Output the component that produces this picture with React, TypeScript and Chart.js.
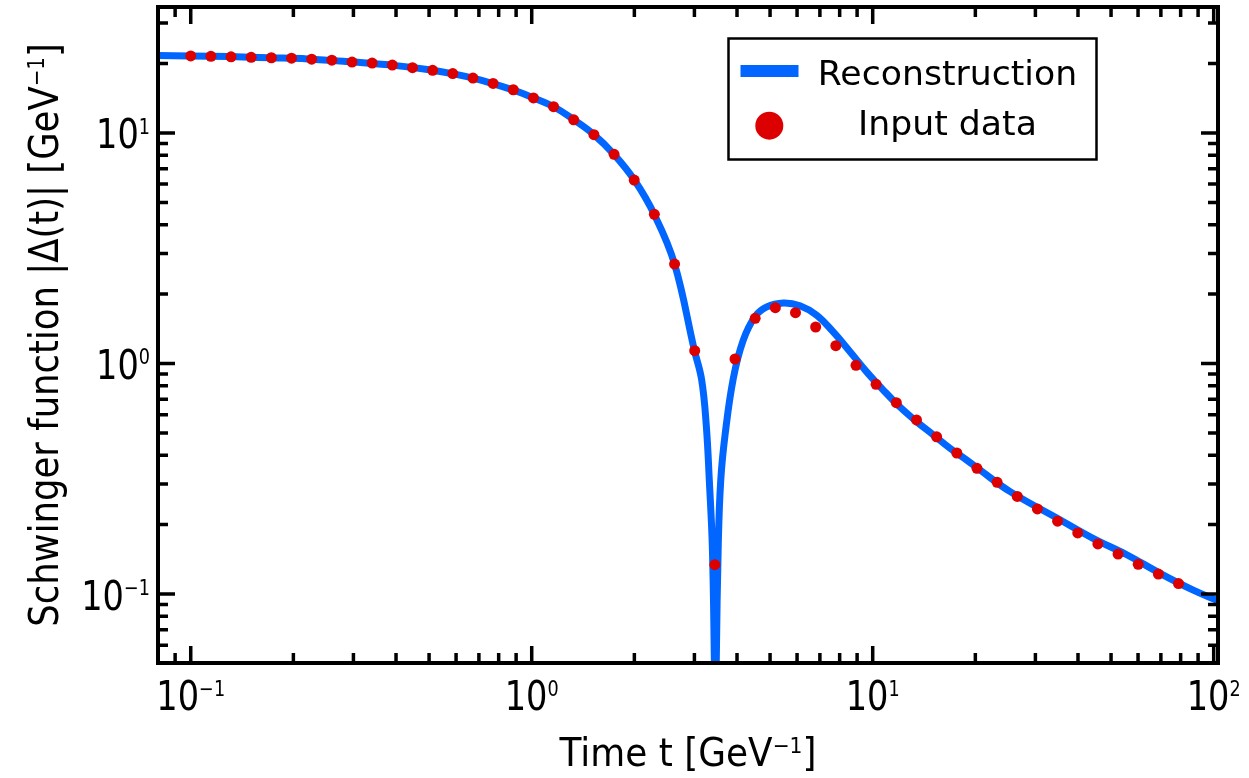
import React, { useEffect, useRef } from "react";
import { Chart, registerables } from "chart.js";

Chart.register(...registerables);

// ---------- data ----------
const inputT = [
  0.1, 0.1146, 0.1313, 0.1504, 0.1724, 0.1975, 0.2263, 0.2593, 0.2972, 0.3404,
  0.3901, 0.447, 0.5122, 0.5868, 0.6724, 0.7705, 0.8829, 1.0116, 1.159, 1.328,
  1.522, 1.744, 1.998, 2.289, 2.624, 3.006, 3.444, 3.946, 4.522, 5.182,
  5.937, 6.803, 7.795, 8.933, 10.23, 11.73, 13.44, 15.4, 17.65, 20.22,
  23.17, 26.55, 30.41, 34.85, 39.93, 45.75, 52.43, 60.07, 68.84, 78.87,
];
const inputV = [
  21.6, 21.5, 21.4, 21.3, 21.2, 21.1, 20.9, 20.7, 20.3, 20.1,
  19.7, 19.2, 18.7, 18.1, 17.3, 16.4, 15.4, 14.2, 13.0, 11.4,
  9.83, 8.08, 6.25, 4.44, 2.7, 1.137, 0.134, 1.046, 1.57, 1.746,
  1.662, 1.44, 1.195, 0.982, 0.812, 0.676, 0.569, 0.481, 0.409, 0.351,
  0.305, 0.265, 0.234, 0.207, 0.184, 0.165, 0.149, 0.1345, 0.122, 0.111,
];

const curveT = [
  0.0802, 0.1, 0.13, 0.17, 0.22, 0.3, 0.4, 0.5, 0.6, 0.7, 0.8, 0.9, 1.0,
  1.16, 1.33, 1.52, 1.74, 2.0, 2.29, 2.62, 3.0, 3.15, 3.25, 3.318, 3.386,
  3.432, 3.455, 3.478, 3.525, 3.583, 3.69, 3.9, 4.17, 4.52, 4.89, 5.47,
  6.12, 6.85, 7.66, 8.58, 9.6, 10.74, 12.0, 13.46, 15.06, 16.85, 18.87,
  20.64, 25.3, 35.4, 44.4, 55.6, 69.6, 87.1, 103,
];
const curveV = [
  21.7, 21.6, 21.45, 21.2, 20.95, 20.3, 19.6, 18.8, 17.95, 17.05, 16.1, 15.2, 14.3,
  13.0, 11.4, 9.85, 8.1, 6.25, 4.42, 2.72, 1.14, 0.85, 0.54, 0.31, 0.16,
  0.052, 0.02, 0.052, 0.165, 0.31, 0.49, 0.86, 1.26, 1.6, 1.76, 1.83,
  1.78, 1.62, 1.37, 1.125, 0.92, 0.767, 0.649, 0.559, 0.49, 0.429, 0.381,
  0.345, 0.278, 0.21, 0.174, 0.148, 0.123, 0.104, 0.0935,
];

const xTickValues = [0.1, 1, 10, 100];
const xTickExps = ["\u22121", "0", "1", "2"];
const yTickValues = [0.1, 1, 10];
const yTickExps = ["\u22121", "0", "1"];

const seriesNames = ["Reconstruction", "Input data"];
const xTitle = ["Time t [GeV", "\u22121", "]"];
const yTitle = ["Schwinger function |\u0394(t)| [GeV", "\u22121", "]"];

const X_MIN = 0.08017;
const X_MAX = 102.95;
const Y_MIN = 0.0502;
const Y_MAX = 35.2;

const FONT = "'DejaVu Sans', 'Noto Sans', sans-serif";
const BLUE = "rgb(0,102,255)";
const RED = "rgb(221,0,0)";

type Seg = { t: string; size: number; rise: number };

function segWidth(ctx: CanvasRenderingContext2D, s: Seg, sx: number) {
  ctx.font = `${s.size}px ${FONT}`;
  return ctx.measureText(s.t).width * sx;
}

function drawRich(
  ctx: CanvasRenderingContext2D,
  segs: Seg[],
  x: number,
  y: number,
  align: "left" | "center" | "right",
  sx: number
) {
  const widths = segs.map((s) => segWidth(ctx, s, sx));
  const total = widths.reduce((a, b) => a + b, 0);
  let cx = align === "left" ? x : align === "center" ? x - total / 2 : x - total;
  ctx.textAlign = "left";
  ctx.textBaseline = "alphabetic";
  ctx.fillStyle = "#000";
  segs.forEach((s, i) => {
    ctx.save();
    ctx.font = `${s.size}px ${FONT}`;
    ctx.translate(cx, y - s.rise);
    ctx.scale(sx, 1);
    ctx.fillText(s.t, 0, 0);
    ctx.restore();
    cx += widths[i];
  });
}

function buildTicks(min: number, max: number) {
  const out: { v: number; major: boolean }[] = [];
  const k0 = Math.floor(Math.log10(min));
  const k1 = Math.ceil(Math.log10(max));
  for (let k = k0; k <= k1; k++) {
    for (let m = 1; m <= 9; m++) {
      const v = m * Math.pow(10, k);
      if (v >= min && v <= max) out.push({ v, major: m === 1 });
    }
  }
  return out;
}

const powSegs = (exp: string): Seg[] => [
  { t: "10", size: 40, rise: 0 },
  { t: exp, size: 21, rise: 14.5 },
];

const decorPlugin = {
  id: "decor",
  afterDatasetsDraw(chart: any) {
    const { ctx, chartArea: a, scales } = chart;
    const xs = scales.x;
    const ys = scales.y;
    ctx.save();
    ctx.strokeStyle = "#000";
    ctx.lineWidth = 3.5;
    ctx.lineCap = "butt";
    buildTicks(X_MIN, X_MAX).forEach(({ v, major }) => {
      const px = xs.getPixelForValue(v);
      const len = major ? 17 : 10;
      ctx.beginPath();
      ctx.moveTo(px, a.bottom);
      ctx.lineTo(px, a.bottom - len);
      ctx.moveTo(px, a.top);
      ctx.lineTo(px, a.top + len);
      ctx.stroke();
    });
    buildTicks(Y_MIN, Y_MAX).forEach(({ v, major }) => {
      const py = ys.getPixelForValue(v);
      const len = major ? 17 : 10;
      ctx.beginPath();
      ctx.moveTo(a.left, py);
      ctx.lineTo(a.left + len, py);
      ctx.moveTo(a.right, py);
      ctx.lineTo(a.right - len, py);
      ctx.stroke();
    });
    ctx.lineWidth = 4;
    ctx.strokeRect(a.left, a.top, a.right - a.left, a.bottom - a.top);
    ctx.restore();
  },
  afterDraw(chart: any) {
    const { ctx, chartArea: a, scales } = chart;
    const xs = scales.x;
    const ys = scales.y;
    ctx.save();
    // tick labels
    xTickValues.forEach((v, i) => {
      drawRich(ctx, powSegs(xTickExps[i]), xs.getPixelForValue(v), a.bottom + 47, "center", 0.84);
    });
    yTickValues.forEach((v, i) => {
      drawRich(ctx, powSegs(yTickExps[i]), a.left - 8, ys.getPixelForValue(v) + 15.5, "right", 0.84);
    });
    // x title
    const xcx = (a.left + a.right) / 2;
    drawRich(
      ctx,
      [
        { t: xTitle[0], size: 39, rise: 0 },
        { t: xTitle[1], size: 22, rise: 13 },
        { t: xTitle[2], size: 39, rise: 0 },
      ],
      xcx,
      a.bottom + 103,
      "center",
      0.92
    );
    // y title
    ctx.save();
    ctx.translate(58, (a.top + a.bottom) / 2);
    ctx.rotate(-Math.PI / 2);
    drawRich(
      ctx,
      [
        { t: yTitle[0], size: 41, rise: 0 },
        { t: yTitle[1], size: 23, rise: 14 },
        { t: yTitle[2], size: 41, rise: 0 },
      ],
      0,
      0,
      "center",
      0.865
    );
    ctx.restore();
    // legend
    const lx = 728.5, ly = 38.5, lw = 368, lh = 121;
    ctx.fillStyle = "#fff";
    ctx.fillRect(lx, ly, lw, lh);
    ctx.strokeStyle = "#000";
    ctx.lineWidth = 2.5;
    ctx.strokeRect(lx, ly, lw, lh);
    ctx.fillStyle = BLUE;
    ctx.fillRect(740.5, 65, 58, 12);
    ctx.fillStyle = RED;
    ctx.beginPath();
    ctx.arc(769.3, 125.7, 14, 0, Math.PI * 2);
    ctx.fill();
    drawRich(ctx, [{ t: seriesNames[0], size: 33, rise: 0 }], 947.5, 85, "center", 1.05);
    drawRich(ctx, [{ t: seriesNames[1], size: 33, rise: 0 }], 947.5, 135, "center", 1.05);
    ctx.restore();
  },
};

export default function App() {
  const ref = useRef<HTMLCanvasElement | null>(null);
  useEffect(() => {
    if (!ref.current) return;
    const chart = new Chart(ref.current, {
      type: "line",
      data: {
        datasets: [
          {
            label: seriesNames[1],
            data: inputT.map((t, i) => ({ x: t, y: inputV[i] })),
            showLine: false,
            pointRadius: 5.5,
            pointHoverRadius: 5.5,
            pointBackgroundColor: RED,
            pointBorderWidth: 0,
            borderColor: RED,
            order: 0,
          },
          {
            label: seriesNames[0],
            data: curveT.map((t, i) => ({ x: t, y: curveV[i] })),
            borderColor: BLUE,
            borderWidth: 7,
            pointRadius: 0,
            pointHoverRadius: 0,
            tension: 0.4,
            fill: false,
            order: 1,
          },
        ],
      },
      options: {
        responsive: false,
        animation: false,
        devicePixelRatio: 1,
        layout: { padding: { left: 158, right: 31, top: 7, bottom: 115 } },
        plugins: { legend: { display: false }, tooltip: { enabled: false } },
        events: [],
        scales: {
          x: { type: "logarithmic", min: X_MIN, max: X_MAX, display: false },
          y: { type: "logarithmic", min: Y_MIN, max: Y_MAX, display: false },
        },
      },
      plugins: [decorPlugin],
    } as any);
    return () => chart.destroy();
  }, []);
  return (
    <div style={{ position: "fixed", left: 0, top: 0, width: 1249, height: 778, background: "#fff" }}>
      <canvas ref={ref} width={1249} height={778} style={{ display: "block", width: 1249, height: 778 }} />
    </div>
  );
}
